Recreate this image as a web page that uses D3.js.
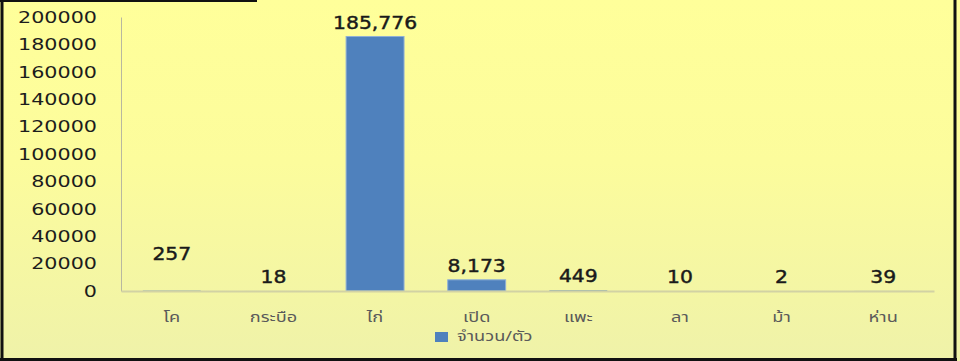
<!DOCTYPE html>
<html>
<head>
<meta charset="utf-8">
<script src="https://cdn.jsdelivr.net/npm/d3@7"></script>
<style>
  html, body { margin: 0; padding: 0; background: #ffffff; }
  svg { display: block; }
</style>
</head>
<body>
<svg id="chart" width="960" height="361"></svg>
<script>
// Livestock counts (head) per animal type
const categories = ["โค", "กระบือ", "ไก่", "เปิด", "แพะ", "ลา", "ม้า", "ห่าน"];
const counts = [257, 18, 185776, 8173, 449, 10, 2, 39];
const yTicks = [0, 20000, 40000, 60000, 80000, 100000, 120000, 140000, 160000, 180000, 200000];
const seriesName = "จำนวน/ตัว";

const W = 960, H = 361;
const svg = d3.select("#chart");

// background gradient
const defs = svg.append("defs");
const grad = defs.append("linearGradient").attr("id", "bg").attr("x1", 0).attr("y1", 0).attr("x2", 0).attr("y2", 1);
grad.append("stop").attr("offset", "0%").attr("stop-color", "#ffff9a");
grad.append("stop").attr("offset", "45%").attr("stop-color", "#fcfc9c");
grad.append("stop").attr("offset", "100%").attr("stop-color", "#eff2a9");
svg.append("rect").attr("width", W).attr("height", H).attr("fill", "url(#bg)");

// frame: left, bottom, right edges and a short top edge
const frame = svg.append("g").attr("stroke", "#111").attr("fill", "none");
frame.append("line").attr("x1", 2).attr("x2", 2).attr("y1", 0).attr("y2", 360).attr("stroke-width", 3);
frame.append("line").attr("x1", 0).attr("x2", 957).attr("y1", 359.5).attr("y2", 359.5).attr("stroke-width", 3);
frame.append("line").attr("x1", 955).attr("x2", 955).attr("y1", 0).attr("y2", 361).attr("stroke-width", 3);
frame.append("line").attr("x1", 0).attr("x2", 257).attr("y1", 1).attr("y2", 1).attr("stroke-width", 2);

const plotL = 121, plotR = 934, plotT = 17, plotB = 291;
const x = d3.scaleBand().domain(categories).range([plotL, plotR]).paddingInner(0.43).paddingOuter(0.215);
const y = d3.scaleLinear().domain([0, 200000]).range([plotB, plotT]);

const fmt = d3.format(",");
const font = "'DejaVu Sans', Verdana, sans-serif";
const thai = "'Noto Sans Thai', 'Noto Sans', 'DejaVu Sans', sans-serif";

// y axis
const yAxis = svg.append("g").attr("transform", `translate(${plotL},0)`)
  .call(d3.axisLeft(y).tickValues(yTicks).tickSize(0).tickPadding(0).tickFormat(d3.format("d")));
yAxis.select(".domain").attr("stroke", "#b8b8a0").attr("stroke-width", 1);
yAxis.selectAll(".tick text")
  .attr("x", null).attr("dy", null)
  .attr("text-anchor", "end")
  .attr("dominant-baseline", "central")
  .attr("font-family", font).attr("font-size", 15).attr("fill", "#1c1c1c")
  .attr("transform", `translate(${97 - plotL},0) scale(1.38,1)`);

// bars (outline only where the bar is tall enough to show it)
svg.append("g").selectAll("rect").data(categories.map((c, i) => ({ c, v: counts[i] })))
  .join("rect")
  .attr("x", d => x(d.c))
  .attr("width", x.bandwidth())
  .attr("y", d => y(d.v))
  .attr("height", d => y(0) - y(d.v))
  .attr("fill", "#4f81bd")
  .attr("stroke", d => (y(0) - y(d.v)) > 3 ? "#8fb0d6" : "none").attr("stroke-width", 1);

// x baseline and category labels
const xAxis = svg.append("g").attr("transform", `translate(0,${plotB})`)
  .call(d3.axisBottom(x).tickSize(0).tickPadding(0));
xAxis.select(".domain").attr("stroke", "#d2d2a4").attr("stroke-width", 2);
xAxis.selectAll(".tick text")
  .attr("y", null).attr("dy", null)
  .attr("transform", "translate(0,27) scale(1.3,1)")
  .attr("dominant-baseline", "central")
  .attr("font-family", thai).attr("font-size", 14).attr("fill", "#5a5a5a");

// value labels; the first one sits higher above its bar
const labelLift = { "โค": 23 };
const labels = categories.map((c, i) => ({
  c, v: counts[i],
  tx: x(c) + x.bandwidth() / 2,
  ty: y(counts[i]) - 14 - (labelLift[c] || 0)
}));
svg.append("g").selectAll("text").data(labels).join("text")
  .attr("transform", d => `translate(${d.tx},${d.ty}) scale(1.13,1)`)
  .attr("text-anchor", "middle").attr("dominant-baseline", "central")
  .attr("font-family", font).attr("font-size", 18)
  .attr("fill", "#1a1a1a").attr("stroke", "#1a1a1a").attr("stroke-width", 0.45)
  .text(d => fmt(d.v));

// legend
const lg = svg.append("g").attr("transform", "translate(435,332)");
lg.append("rect").attr("width", 13).attr("height", 10).attr("fill", "#4f81bd");
lg.append("text").attr("transform", "translate(22,5) scale(1.3,1)").attr("dominant-baseline", "central")
  .attr("font-family", thai).attr("font-size", 14).attr("fill", "#5a5a5a")
  .text(seriesName);
</script>
</body>
</html>
